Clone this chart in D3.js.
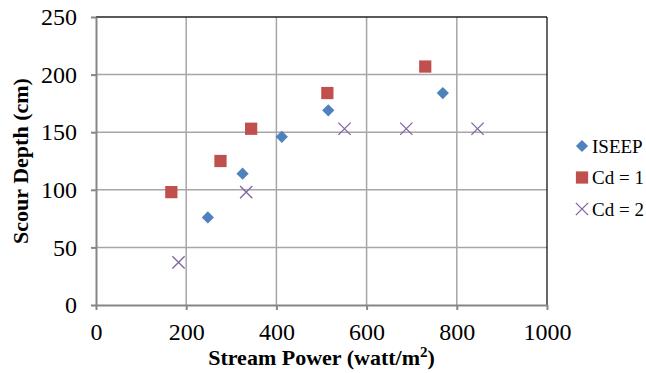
<!DOCTYPE html>
<html>
<head>
<meta charset="utf-8">
<script src="https://cdn.jsdelivr.net/npm/d3@7"></script>
</head>
<body style="margin:0">
<script>
// values
const iseepX = [248, 325, 412, 515, 769];
const iseepY = [76, 114, 146, 169, 184];
const cd1X = [167, 276, 344, 513, 730];
const cd1Y = [98, 125, 153, 184, 207];
const cd2X = [183, 333, 551, 688, 846];
const cd2Y = [37, 98, 153, 153, 153];
const xTicks = [0, 200, 400, 600, 800, 1000];
const yTicks = [0, 50, 100, 150, 200, 250];
const seriesNames = ["ISEEP", "Cd = 1", "Cd = 2"];
const colors = ["#4F81BD", "#C0504D", "#8064A2"];

const FONT = '"Liberation Serif"';
const width = 646, height = 373;
const margin = { top: 17, right: 99, bottom: 68, left: 96 };

const svg = d3.select("body").append("svg")
  .attr("width", width)
  .attr("height", height);

const x = d3.scaleLinear().domain([0, 1000]).range([margin.left, width - margin.right]);
const y = d3.scaleLinear().domain([0, 250]).range([height - margin.bottom, margin.top]);

// grid
svg.append("g")
  .selectAll("line")
  .data(xTicks.slice(1, -1))
  .join("line")
    .attr("x1", d => x(d)).attr("x2", d => x(d))
    .attr("y1", y(250)).attr("y2", y(0))
    .attr("stroke", "#A6A6A6").attr("stroke-width", 1.5);
svg.append("g")
  .selectAll("line")
  .data(yTicks.slice(1, -1))
  .join("line")
    .attr("x1", x(0)).attr("x2", x(1000))
    .attr("y1", d => y(d)).attr("y2", d => y(d))
    .attr("stroke", "#A6A6A6").attr("stroke-width", 1.5);

// frame top and right
svg.append("line").attr("x1", x(0)).attr("x2", x(1000)).attr("y1", y(250)).attr("y2", y(250))
  .attr("stroke", "#222").attr("stroke-width", 1.5);
svg.append("line").attr("x1", x(1000)).attr("x2", x(1000)).attr("y1", y(250)).attr("y2", y(0))
  .attr("stroke", "#000").attr("stroke-width", 1.2);

function xAxis(g) {
  g.attr("transform", `translate(0,${y(0)})`)
    .call(d3.axisBottom(x).tickValues(xTicks).tickFormat(d3.format("d"))
      .tickSize(5).tickSizeOuter(0).tickPadding(13));
  g.selectAll("line, path").attr("stroke", "#868686").attr("stroke-width", 2);
}

function yAxis(g) {
  g.attr("transform", `translate(${x(0)},0)`)
    .call(d3.axisLeft(y).tickValues(yTicks).tickSize(5).tickSizeOuter(0).tickPadding(14));
  g.selectAll("line, path").attr("stroke", "#868686").attr("stroke-width", 2);
}

svg.append("g").attr("class", "xaxis").call(xAxis);
svg.append("g").attr("class", "yaxis").call(yAxis);
svg.selectAll(".xaxis, .yaxis").attr("font-family", null).attr("font-size", null);
svg.selectAll(".tick text")
  .attr("fill", "#000")
  .style("font-family", FONT)
  .attr("font-size", 24);

// marks
const diamond = d3.symbol().type(d3.symbolDiamond2).size(95);
const square = d3.symbol().type(d3.symbolSquare).size(150);
const cross = d3.symbol().type(d3.symbolTimes).size(100);

svg.append("g")
  .selectAll("path")
  .data(d3.zip(iseepX, iseepY))
  .join("path")
    .attr("d", diamond)
    .attr("transform", d => `translate(${x(d[0])},${y(d[1])})`)
    .attr("fill", colors[0]);

svg.append("g")
  .selectAll("path")
  .data(d3.zip(cd1X, cd1Y))
  .join("path")
    .attr("d", square)
    .attr("transform", d => `translate(${x(d[0])},${y(d[1])})`)
    .attr("fill", colors[1]);

svg.append("g")
  .selectAll("path")
  .data(d3.zip(cd2X, cd2Y))
  .join("path")
    .attr("d", cross)
    .attr("transform", d => `translate(${x(d[0])},${y(d[1])})`)
    .attr("fill", "none")
    .attr("stroke", colors[2])
    .attr("stroke-width", 1.3);

// legend
const symbols = [diamond, square, cross];
const legend = svg.append("g")
  .selectAll("g")
  .data(seriesNames)
  .join("g")
    .attr("transform", (d, i) => `translate(582,${146 + i * 31.5})`);
legend.append("path")
  .attr("d", (d, i) => symbols[i]())
  .attr("fill", (d, i) => i == 2 ? "none" : colors[i])
  .attr("stroke", (d, i) => i == 2 ? colors[i] : "none")
  .attr("stroke-width", 1.3);
legend.append("text")
  .attr("x", 10)
  .attr("y", 6.5)
  .style("font-family", FONT)
  .attr("font-size", 19)
  .text(d => d);

// titles
svg.append("text")
  .attr("x", (x(0) + x(1000)) / 2)
  .attr("y", 365)
  .attr("text-anchor", "middle")
  .style("font-family", FONT)
  .attr("font-size", 22)
  .attr("font-weight", "bold")
  .html("Stream Power (watt/m<tspan dy='-8' font-size='15'>2</tspan><tspan dy='8'>)</tspan>");

svg.append("text")
  .attr("transform", `translate(28,${(y(0) + y(250)) / 2}) rotate(-90)`)
  .attr("text-anchor", "middle")
  .style("font-family", FONT)
  .attr("font-size", 22)
  .attr("font-weight", "bold")
  .text("Scour Depth (cm)");
</script>
</body>
</html>
